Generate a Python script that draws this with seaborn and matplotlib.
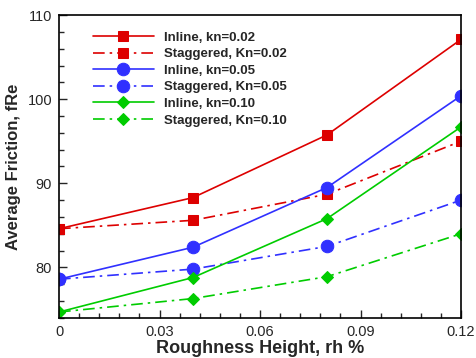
import matplotlib
matplotlib.use("Agg")
import matplotlib.pyplot as plt
import seaborn as sns
import pandas as pd
from matplotlib.ticker import MultipleLocator, FixedLocator

rh = [0.0, 0.04, 0.08, 0.12]
inline_002 = [84.6, 88.3, 95.75, 107.1]
stag_002 = [84.6, 85.6, 88.7, 95.0]
inline_005 = [78.6, 82.4, 89.5, 100.4]
stag_005 = [78.6, 79.8, 82.5, 88.0]
inline_010 = [74.7, 78.8, 85.8, 96.7]
stag_010 = [74.7, 76.3, 78.9, 84.0]
labels = ["Inline, kn=0.02", "Staggered, Kn=0.02", "Inline, kn=0.05",
          "Staggered, Kn=0.05", "Inline, kn=0.10", "Staggered, Kn=0.10"]
x_ticks = [0, 0.03, 0.06, 0.09, 0.12]
x_tick_labels = ["0", "0.03", "0.06", "0.09", "0.12"]
y_ticks = [80, 90, 100, 110]

series = [inline_002, stag_002, inline_005, stag_005, inline_010, stag_010]
colors = ["#dd0000", "#dd0000", "#3030ff", "#3030ff", "#00cc00", "#00cc00"]
markers = ["s", "s", "o", "o", "D", "D"]
msizes = [6.5, 6.5, 9, 9, 6.5, 6.5]
styles = ["-", (0, (7, 3, 1.5, 3)), "-", (0, (7, 3, 1.5, 3)), "-", (0, (7, 3, 1.5, 3))]

sns.set_style("ticks")
plt.rcParams['font.family'] = ['Liberation Sans', 'DejaVu Sans']

fig = plt.figure(figsize=(4.76, 3.58), dpi=100)
ax = fig.add_axes([0.124, 0.112, 0.8445, 0.846])

for lab, ys, c, m, ms, ls in zip(labels, series, colors, markers, msizes, styles):
    df = pd.DataFrame({"rh": rh, "f": ys})
    sns.lineplot(data=df, x="rh", y="f", ax=ax, color=c, marker=m, markersize=ms,
                 markeredgecolor=c, linestyle=ls, linewidth=1.2, label=lab)

ax.set_xlim(0, 0.12)
ax.set_ylim(74, 110)
ax.xaxis.set_major_locator(FixedLocator(x_ticks))
ax.set_xticklabels(x_tick_labels)
ax.xaxis.set_minor_locator(MultipleLocator(0.006))
ax.yaxis.set_major_locator(FixedLocator(y_ticks))
ax.yaxis.set_minor_locator(MultipleLocator(2))
ax.tick_params(which="both", direction="in", top=False, right=False, labelsize=10.5, pad=5)
ax.tick_params(which="major", length=6, width=1)
ax.tick_params(which="minor", length=3.5, width=1)
for s in ax.spines.values():
    s.set_linewidth(1.2)
    s.set_color("black")

ax.set_xlabel("Roughness Height, rh %", fontsize=13, fontweight="bold", labelpad=1)
ax.set_ylabel("Average Friction, fRe", fontsize=12, fontweight="bold", labelpad=5)

leg = ax.legend(loc="upper left", bbox_to_anchor=(0.055, 0.985), frameon=False,
                prop={"weight": "bold", "size": 9.5}, handlelength=4.6,
                labelspacing=0.33, handletextpad=0.8)

fig.savefig("out.png", dpi=100)
